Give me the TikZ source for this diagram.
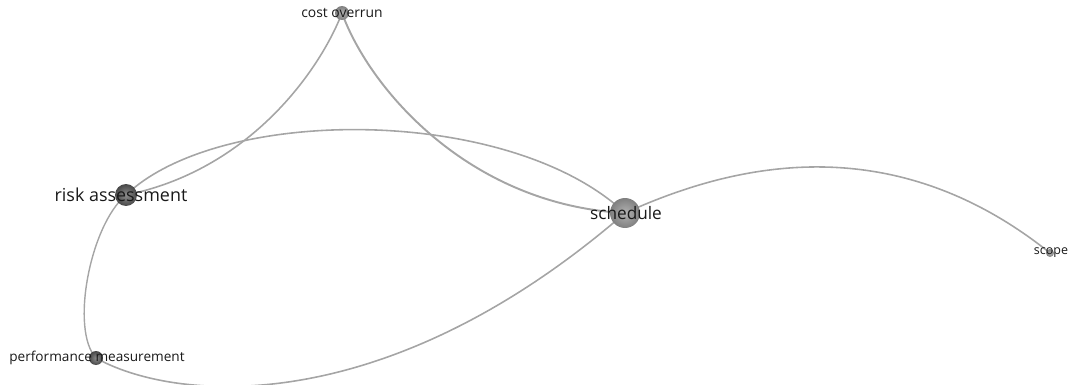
\documentclass[tikz,border=0pt]{standalone}
\usepackage{fontspec}
\setmainfont{Open Sans}
\usetikzlibrary{backgrounds}
\definecolor{edgegray}{RGB}{165,165,165}

\begin{document}
\begin{tikzpicture}[x=0.02cm,y=-0.02cm,
    ball/.style={circle,inner sep=0pt,shading=radial,
                 inner color=black!30,outer color=black!50},
    darkball/.style={ball,inner color=black!45,outer color=black!72},
    lbl/.style={inner sep=0pt,text=black!90},
    edge/.style={edgegray,line width=0.9pt}]
  \useasboundingbox (0,0) rectangle (1068,385);
  % keywords
  \node[ball,minimum size=0.28cm] (cost) at (342,13) {};
  \node[darkball,minimum size=0.44cm] (risk) at (126,195) {};
  \node[ball,minimum size=0.6cm] (sched) at (625,213) {};
  \node[ball,minimum size=0.16cm] (scope) at (1050,253) {};
  \node[darkball,minimum size=0.28cm] (perf) at (96,358) {};
  \node[lbl,font=\fontsize{7.9}{9}\selectfont] at (342,13) {cost overrun};
  \node[lbl,font=\fontsize{10.2}{12}\selectfont] at (121,195) {risk assessment};
  \node[lbl,font=\fontsize{9.8}{11}\selectfont] at (626,213) {schedule};
  \node[lbl,font=\fontsize{7.1}{8}\selectfont] at (1051,253) {scope};
  \node[lbl,font=\fontsize{7.75}{9}\selectfont] at (97,358) {performance measurement};
  % links
  \begin{pgfonlayer}{background}
    \draw[edge] (cost.center) .. controls (320,70) and (250,170) .. (risk.center);
    \draw[edge,line width=1.1pt] (cost.center) .. controls (370,90) and (470,205) .. (sched.center);
    \draw[edge] (risk.center) .. controls (220,105) and (510,105) .. (sched.center);
    \draw[edge,line width=0.8pt] (risk.center) .. controls (90,225) and (70,330) .. (perf.center);
    \draw[edge] (perf.center) .. controls (170,400) and (380,425) .. (sched.center);
    \draw[edge] (sched.center) .. controls (720,170) and (884,120) .. (scope.center);
  \end{pgfonlayer}
\end{tikzpicture}
\end{document}
